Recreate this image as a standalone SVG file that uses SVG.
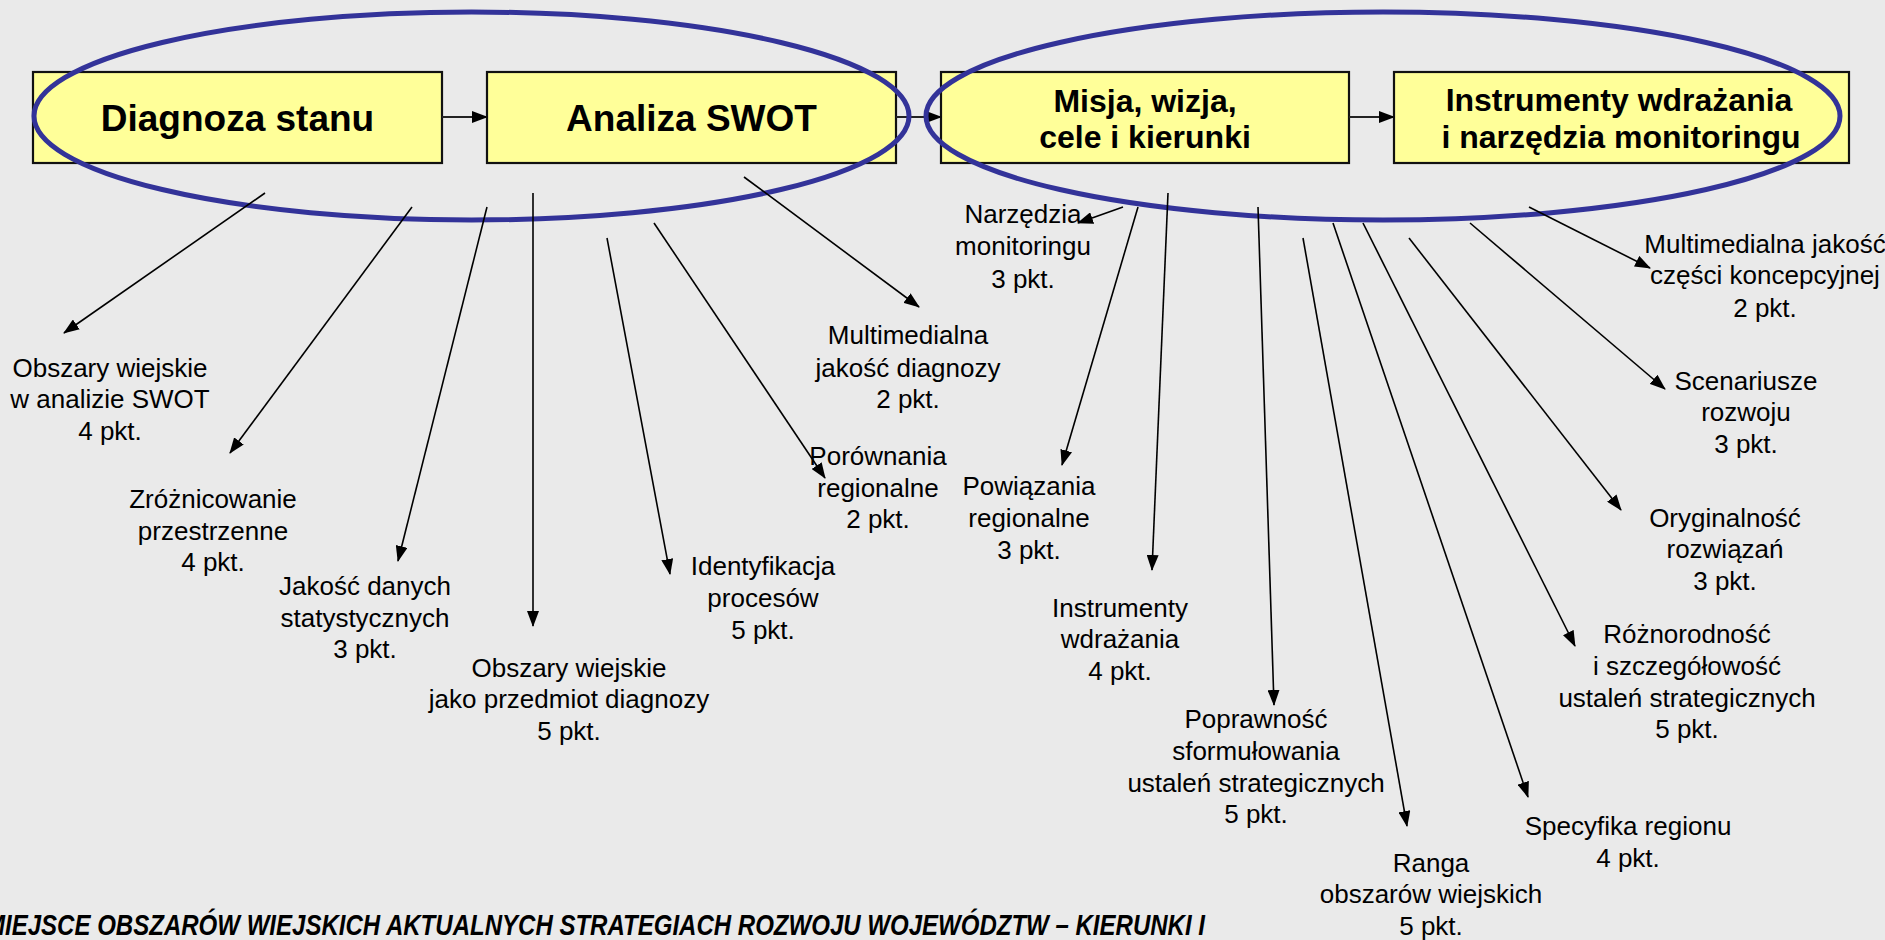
<svg xmlns="http://www.w3.org/2000/svg" width="1885" height="940" viewBox="0 0 1885 940">
<defs>
<marker id="ah" markerUnits="userSpaceOnUse" markerWidth="16" markerHeight="12" viewBox="0 0 16 12" refX="15" refY="6" orient="auto">
<path d="M0,0 L16,6 L0,12 z" fill="#000"/>
</marker>
</defs>
<style>
.bg{fill:#EAEAEA}
.box{fill:#FFFF99;stroke:#111;stroke-width:2.2}
.ell{fill:none;stroke:#333399;stroke-width:5}
.t{font-family:"Liberation Sans",Arial,sans-serif;font-size:26px;fill:#000;text-anchor:middle}
.tb{font-family:"Liberation Sans",Arial,sans-serif;font-weight:bold;fill:#000;text-anchor:middle}
.c line{stroke:#000;stroke-width:1.6;marker-end:url(#ah)}
.flow line{stroke:#222;stroke-width:2.2;marker-end:url(#ah)}
.cap{font-family:"Liberation Sans",Arial,sans-serif;font-weight:bold;font-style:italic;font-size:30px;fill:#000}
</style>
<rect class="bg" x="0" y="0" width="1885" height="940"/>

<g id="box-diagnoza">
<rect class="box" x="33" y="72" width="409" height="91"/>
<text class="tb" x="237.5" y="131" font-size="37">Diagnoza stanu</text>
</g>
<g id="box-swot">
<rect class="box" x="487" y="72" width="409" height="91"/>
<text class="tb" x="691.5" y="131" font-size="37">Analiza SWOT</text>
</g>
<g id="box-misja">
<rect class="box" x="941" y="72" width="408" height="91"/>
<text class="tb" x="1145" y="112" font-size="32">Misja, wizja,</text>
<text class="tb" x="1145" y="148" font-size="32">cele i kierunki</text>
</g>
<g id="box-instrumenty">
<rect class="box" x="1394" y="72" width="455" height="91"/>
<text class="tb" x="1619" y="111" font-size="32">Instrumenty wdrażania</text>
<text class="tb" x="1621" y="148" font-size="32">i narzędzia monitoringu</text>
</g>

<g id="flow" class="flow">
<line x1="442" y1="117" x2="487" y2="117"/>
<line x1="896" y1="117" x2="941" y2="117"/>
<line x1="1349" y1="117" x2="1394" y2="117"/>
</g>

<g id="ellipses">
<ellipse class="ell" cx="471.5" cy="116" rx="437.5" ry="104"/>
<ellipse class="ell" cx="1383" cy="116" rx="457" ry="104"/>
</g>

<g id="connectors" class="c">
<line x1="265" y1="193" x2="64" y2="333"/>
<line x1="412" y1="207" x2="230" y2="453"/>
<line x1="487" y1="207" x2="398" y2="561"/>
<line x1="533" y1="193" x2="533" y2="626"/>
<line x1="607" y1="238" x2="670" y2="574"/>
<line x1="654" y1="223" x2="825" y2="478"/>
<line x1="744" y1="177" x2="919" y2="307"/>
<line x1="1123" y1="207" x2="1078" y2="223"/>
<line x1="1138" y1="207" x2="1062" y2="465"/>
<line x1="1168" y1="193" x2="1152" y2="570"/>
<line x1="1258" y1="207" x2="1274" y2="705"/>
<line x1="1303" y1="238" x2="1407" y2="826"/>
<line x1="1333" y1="223" x2="1528" y2="797"/>
<line x1="1363" y1="223" x2="1575" y2="646"/>
<line x1="1409" y1="238" x2="1621" y2="510"/>
<line x1="1470" y1="223" x2="1665" y2="389"/>
<line x1="1529" y1="207" x2="1650" y2="268"/>
</g>

<g id="l-obszary-swot">
<text class="t" x="110" y="377">Obszary wiejskie</text>
<text class="t" x="110" y="408">w analizie SWOT</text>
<text class="t" x="110" y="440">4 pkt.</text>
</g>
<g id="l-zroznicowanie">
<text class="t" x="213" y="508">Zróżnicowanie</text>
<text class="t" x="213" y="540">przestrzenne</text>
<text class="t" x="213" y="571">4 pkt.</text>
</g>
<g id="l-jakosc-danych">
<text class="t" x="365" y="595">Jakość danych</text>
<text class="t" x="365" y="627">statystycznych</text>
<text class="t" x="365" y="658">3 pkt.</text>
</g>
<g id="l-obszary-diagnoza">
<text class="t" x="569" y="677">Obszary wiejskie</text>
<text class="t" x="569" y="708">jako przedmiot diagnozy</text>
<text class="t" x="569" y="740">5 pkt.</text>
</g>
<g id="l-identyfikacja">
<text class="t" x="763" y="575">Identyfikacja</text>
<text class="t" x="763" y="607">procesów</text>
<text class="t" x="763" y="639">5 pkt.</text>
</g>
<g id="l-porownania">
<text class="t" x="878" y="465">Porównania</text>
<text class="t" x="878" y="497">regionalne</text>
<text class="t" x="878" y="528">2 pkt.</text>
</g>
<g id="l-multimedialna-diagnozy">
<text class="t" x="908" y="344">Multimedialna</text>
<text class="t" x="908" y="377">jakość diagnozy</text>
<text class="t" x="908" y="408">2 pkt.</text>
</g>
<g id="l-narzedzia">
<text class="t" x="1023" y="223">Narzędzia</text>
<text class="t" x="1023" y="255">monitoringu</text>
<text class="t" x="1023" y="288">3 pkt.</text>
</g>
<g id="l-powiazania">
<text class="t" x="1029" y="495">Powiązania</text>
<text class="t" x="1029" y="527">regionalne</text>
<text class="t" x="1029" y="559">3 pkt.</text>
</g>
<g id="l-instrumenty">
<text class="t" x="1120" y="617">Instrumenty</text>
<text class="t" x="1120" y="648">wdrażania</text>
<text class="t" x="1120" y="680">4 pkt.</text>
</g>
<g id="l-poprawnosc">
<text class="t" x="1256" y="728">Poprawność</text>
<text class="t" x="1256" y="760">sformułowania</text>
<text class="t" x="1256" y="792">ustaleń strategicznych</text>
<text class="t" x="1256" y="823">5 pkt.</text>
</g>
<g id="l-ranga">
<text class="t" x="1431" y="872">Ranga</text>
<text class="t" x="1431" y="903">obszarów wiejskich</text>
<text class="t" x="1431" y="935">5 pkt.</text>
</g>
<g id="l-specyfika">
<text class="t" x="1628" y="835">Specyfika regionu</text>
<text class="t" x="1628" y="867">4 pkt.</text>
</g>
<g id="l-roznorodnosc">
<text class="t" x="1687" y="643">Różnorodność</text>
<text class="t" x="1687" y="675">i szczegółowość</text>
<text class="t" x="1687" y="707">ustaleń strategicznych</text>
<text class="t" x="1687" y="738">5 pkt.</text>
</g>
<g id="l-oryginalnosc">
<text class="t" x="1725" y="527">Oryginalność</text>
<text class="t" x="1725" y="558">rozwiązań</text>
<text class="t" x="1725" y="590">3 pkt.</text>
</g>
<g id="l-scenariusze">
<text class="t" x="1746" y="390">Scenariusze</text>
<text class="t" x="1746" y="421">rozwoju</text>
<text class="t" x="1746" y="453">3 pkt.</text>
</g>
<g id="l-multimedialna-koncepcyjnej">
<text class="t" x="1765" y="253">Multimedialna jakość</text>
<text class="t" x="1765" y="284">części koncepcyjnej</text>
<text class="t" x="1765" y="317">2 pkt.</text>
</g>

<g id="caption">
<text class="cap" x="-15" y="935" textLength="1220" lengthAdjust="spacingAndGlyphs">MIEJSCE OBSZARÓW WIEJSKICH AKTUALNYCH STRATEGIACH ROZWOJU WOJEWÓDZTW – KIERUNKI I</text>
</g>
</svg>
